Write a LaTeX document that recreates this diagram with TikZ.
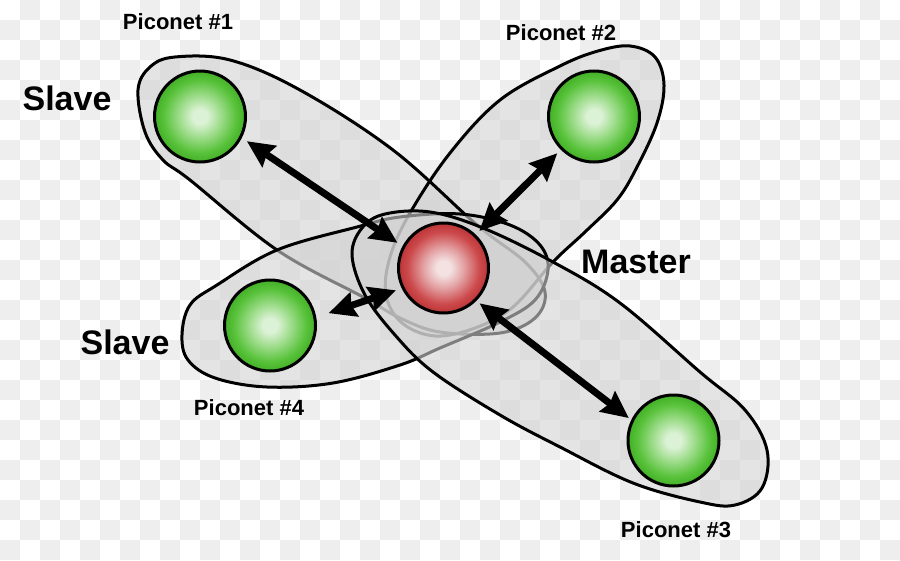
\documentclass[tikz,border=0pt]{standalone}
\usepackage{fontspec}
\setmainfont{Liberation Sans}
\usetikzlibrary{arrows.meta}
\definecolor{checkc}{HTML}{EEEEEE}
\definecolor{eggc}{HTML}{D2D2D2}
\definecolor{gA}{HTML}{DCF2D6}
\definecolor{gM}{HTML}{A2DE90}
\definecolor{gB}{HTML}{58C23A}
\definecolor{gC}{HTML}{42B026}
\definecolor{rA}{HTML}{F4E2E2}
\definecolor{rM}{HTML}{E4A4A6}
\definecolor{rB}{HTML}{CC4A4C}
\definecolor{rC}{HTML}{BC3436}
\pgfdeclareradialshading{greenball}{\pgfpoint{0bp}{0bp}}{color(0bp)=(gA); color(4bp)=(gA); color(11bp)=(gM); color(20bp)=(gB); color(25bp)=(gC); color(50bp)=(gC)}
\pgfdeclareradialshading{redball}{\pgfpoint{0bp}{0bp}}{color(0bp)=(rA); color(4bp)=(rA); color(11bp)=(rM); color(20bp)=(rB); color(25bp)=(rC); color(50bp)=(rC)}
\begin{document}
\begin{tikzpicture}[x=1pt,y=-1pt,
  checker/.style={fill=checkc},
  eggfill/.style={fill=eggc, fill opacity=0.6},
  eggline/.style={draw=black, line width=3pt},
  ball/.style={circle, draw=black, line width=3pt, minimum size=91pt, inner sep=0pt, shading=greenball},
  masterball/.style={ball, minimum size=90pt, shading=redball},
  biarrow/.style={line width=7pt, {Stealth[length=27pt,width=25pt,inset=3pt]}-{Stealth[length=27pt,width=25pt,inset=3pt]}},
  lab/.style={font=\bfseries\fontsize{22}{25}\selectfont, inner sep=0pt},
  big/.style={font=\bfseries\fontsize{34}{38}\selectfont, inner sep=0pt}]
\useasboundingbox (0,0) rectangle (900,560);
\fill[white] (0,0) rectangle (900,560);
% checkerboard background
\foreach \j in {0,2,...,26} \foreach \i in {1,3,...,43} \fill[checker] (\i*20,\j*20) rectangle ++(20,20);
\foreach \j in {1,3,...,27} \foreach \i in {0,2,...,44} \fill[checker] (\i*20,\j*20) rectangle ++(20,20);
% piconet 1 and 2 fills
\fill[eggfill] plot[smooth cycle, tension=0.6] coordinates {(138,90) (150,67) (175,57) (230,60) (300,90) (393,150) (477,225) (525,262) (545,292) (535,318) (500,333) (440,332) (400,318) (363,297) (277,250) (190,180) (163,160) (145,132)};
\fill[eggfill] plot[smooth cycle, tension=0.6] coordinates {(630,46) (655,57) (664,85) (657,123) (637,167) (617,200) (585,232) (553,262) (513,307) (475,328) (435,336) (402,323) (386,295) (390,257) (410,213) (450,153) (500,100) (560,66) (598,51)};
% piconet 1 and 2 outlines
\draw[eggline] plot[smooth cycle, tension=0.6] coordinates {(138,90) (150,67) (175,57) (230,60) (300,90) (393,150) (477,225) (525,262) (545,292) (535,318) (500,333) (440,332) (400,318) (363,297) (277,250) (190,180) (163,160) (145,132)};
\draw[eggline] plot[smooth cycle, tension=0.6] coordinates {(630,46) (655,57) (664,85) (657,123) (637,167) (617,200) (585,232) (553,262) (513,307) (475,328) (435,336) (402,323) (386,295) (390,257) (410,213) (450,153) (500,100) (560,66) (598,51)};
% piconet 4
\fill[eggfill] plot[smooth cycle, tension=0.6] coordinates {(182,335) (190,305) (217,285) (277,250) (357,227) (400,217) (460,214) (510,225) (540,245) (548,270) (535,300) (500,322) (440,348) (400,365) (333,383) (267,387) (215,378) (188,360)};
\draw[eggline] plot[smooth cycle, tension=0.6] coordinates {(182,335) (190,305) (217,285) (277,250) (357,227) (400,217) (460,214) (510,225) (540,245) (548,270) (535,300) (500,322) (440,348) (400,365) (333,383) (267,387) (215,378) (188,360)};
% piconet 3
\fill[eggfill] plot[smooth cycle, tension=0.6] coordinates {(352,255) (362,228) (385,214) (430,212) (483,228) (553,262) (620,303) (700,372) (745,410) (767,450) (762,488) (735,505) (700,502) (633,483) (560,447) (500,415) (433,372) (395,335) (365,295)};
\draw[eggline] plot[smooth cycle, tension=0.6] coordinates {(352,255) (362,228) (385,214) (430,212) (483,228) (553,262) (620,303) (700,372) (745,410) (767,450) (762,488) (735,505) (700,502) (633,483) (560,447) (500,415) (433,372) (395,335) (365,295)};
% devices
\node[ball] (s1) at (200,116.5) {};
\node[ball] (s2) at (594,116.5) {};
\node[ball] (s3) at (673.5,440.5) {};
\node[ball] (s4) at (270,325.5) {};
\node[masterball] (m) at (443.5,268) {};
% links
\draw[biarrow, shorten <=6pt, shorten >=6pt] (s1.333) -- (m.152);
\draw[biarrow, shorten <=5pt, shorten >=5pt] (s2.225) -- (m.46);
\draw[biarrow, shorten <=4pt, shorten >=3pt] (m.315) -- (s3.154);
\draw[biarrow, shorten <=13pt, shorten >=6pt] (s4.10) -- (m.206);
% labels
\node[lab] (l1) at (178,22) {Piconet \#1};
\node[lab] (l2) at (561,33) {Piconet \#2};
\node[lab] (l3) at (676,530) {Piconet \#3};
\node[lab] (l4) at (249,408) {Piconet \#4};
\node[big] (sl1) at (67,98) {Slave};
\node[big] (sl2) at (125,342) {Slave};
\node[big] (ml) at (636,262) {Master};
\end{tikzpicture}
\end{document}
